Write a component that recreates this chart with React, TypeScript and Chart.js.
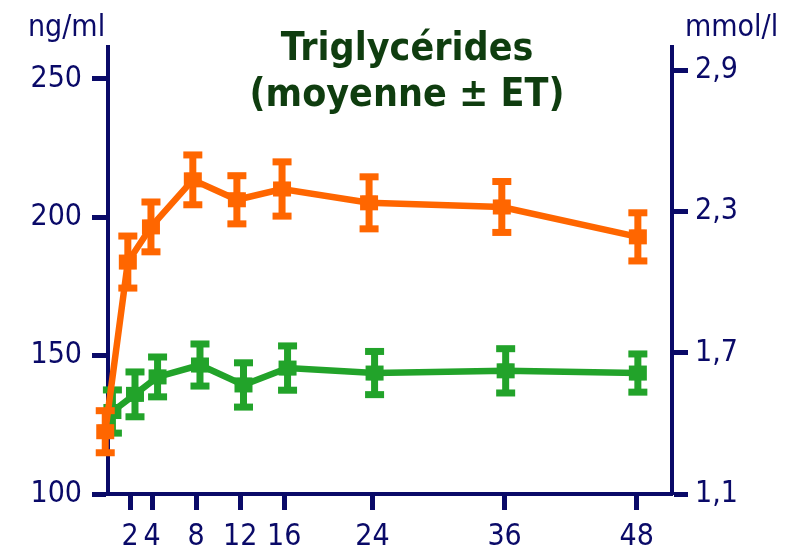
import React, { useEffect, useRef } from "react";
import { Chart, registerables } from "chart.js";

Chart.register(...registerables);

// Hours after intake (each series slightly shifted so the error bars don't overlap)
const orangeHours = [-0.25, 1.8, 3.9, 7.7, 11.7, 15.8, 23.7, 35.75, 48.1];
const orangeMean = [122.5, 183.8, 196.5, 213.5, 206.3, 210.2, 205.2, 203.7, 192.9];
const orangeSd = [7.6, 9.4, 9, 9, 8.7, 9.8, 9.4, 9.2, 8.7];

const greenHours = [0.4, 2.45, 4.5, 8.35, 12.3, 16.3, 24.2, 36.1, 48.1];
const greenMean = [129.8, 136, 142.3, 146.6, 139.4, 145.5, 143.7, 144.5, 143.7];
const greenSd = [7.8, 8.1, 7.2, 7.6, 8, 8, 7.8, 8, 6.9];

const hourTicks = [2, 4, 8, 12, 16, 24, 36, 48];
const ngTicks = [100, 150, 200, 250];
const mmolTicks = [1.1, 1.7, 2.3, 2.9];

const titleLines = ["Triglycérides", "(moyenne ± ET)"];
const leftUnit = "ng/ml";
const rightUnit = "mmol/l";

const NAVY = "#0a0a68";
const ORANGE = "#ff6600";
const GREEN = "#22a32a";
const TITLE_GREEN = "#0f3d0f";
const FONT = '"DejaVu Sans Condensed", "DejaVu Sans", sans-serif';

const errors = [orangeSd, greenSd];

// Draws the ± SD bars and the square markers on top of each series line
const errorBarPlugin = {
  id: "errorBars",
  afterDatasetDraw(chart: any, args: any) {
    const sd = errors[args.index];
    if (!sd) return;
    const ds = chart.data.datasets[args.index];
    const yScale = chart.scales[ds.yAxisID || "y"];
    const ctx = chart.ctx;
    ctx.save();
    ctx.fillStyle = ds.borderColor;
    args.meta.data.forEach((pt: any, j: number) => {
      const v = ds.data[j].y;
      const top = yScale.getPixelForValue(v + sd[j]);
      const bot = yScale.getPixelForValue(v - sd[j]);
      const x = pt.x;
      ctx.fillRect(x - 3.5, top, 7, bot - top);
      ctx.fillRect(x - 9.5, top - 3.5, 19, 7);
      ctx.fillRect(x - 9.5, bot - 3.5, 19, 7);
      ctx.fillRect(x - 9, pt.y - 7.5, 18, 15);
    });
    ctx.restore();
  },
};

const textPlugin = {
  id: "texts",
  afterDraw(chart: any) {
    const ctx = chart.ctx;
    ctx.save();
    ctx.textBaseline = "alphabetic";
    ctx.fillStyle = NAVY;
    ctx.font = `30px ${FONT}`;
    ctx.textAlign = "left";
    ctx.fillText(leftUnit, 28, 36);
    ctx.fillText(rightUnit, 685, 36);
    ctx.fillStyle = TITLE_GREEN;
    ctx.font = `bold 39px ${FONT}`;
    ctx.textAlign = "center";
    ctx.fillText(titleLines[0], 407, 60);
    ctx.fillText(titleLines[1], 407, 106);
    ctx.restore();
  },
};

export default function App() {
  const ref = useRef<HTMLCanvasElement>(null);

  useEffect(() => {
    if (!ref.current) return;
    const axisGrid = {
      display: true,
      drawOnChartArea: false,
      drawTicks: true,
      tickLength: 16,
      tickWidth: 5,
      tickColor: NAVY,
    };
    const chart = new Chart(ref.current, {
      type: "line",
      data: {
        datasets: [
          {
            label: "orange",
            data: orangeHours.map((h, i) => ({ x: h, y: orangeMean[i] })),
            borderColor: ORANGE,
            backgroundColor: ORANGE,
            borderWidth: 6.5,
            pointStyle: "rect",
            pointRadius: 10,
            pointBorderWidth: 0,
            yAxisID: "y",
            clip: false,
          },
          {
            label: "green",
            data: greenHours.map((h, i) => ({ x: h, y: greenMean[i] })),
            borderColor: GREEN,
            backgroundColor: GREEN,
            borderWidth: 6.5,
            pointStyle: "rect",
            pointRadius: 10,
            pointBorderWidth: 0,
            yAxisID: "y",
            clip: false,
          },
        ],
      },
      plugins: [errorBarPlugin, textPlugin],
      options: {
        animation: false,
        responsive: false,
        devicePixelRatio: 1,
        layout: { padding: { top: 47, left: 0, right: 0, bottom: 0 } },
        plugins: {
          legend: { display: false },
          tooltip: { enabled: false },
          title: { display: false },
        },
        scales: {
          x: {
            type: "linear",
            min: 0,
            max: 51.2,
            z: 1,
            afterBuildTicks: (s: any) => {
              s.ticks = hourTicks.map((v) => ({ value: v }));
            },
            afterFit: (s: any) => {
              s.height = 53;
            },
            border: { display: true, color: NAVY, width: 4 },
            grid: axisGrid,
            ticks: {
              autoSkip: false,
              maxRotation: 0,
              padding: 9,
              color: NAVY,
              font: { family: FONT, size: 30 },
              callback: (v: any) => String(v),
            },
          },
          y: {
            type: "linear",
            position: "left",
            min: 100,
            max: 261.5,
            z: 1,
            afterBuildTicks: (s: any) => {
              s.ticks = ngTicks.map((v) => ({ value: v }));
            },
            afterFit: (s: any) => {
              s.width = 108;
            },
            border: { display: true, color: NAVY, width: 4 },
            grid: axisGrid,
            ticks: {
              padding: 10,
              color: NAVY,
              font: { family: FONT, size: 30 },
              callback: (v: any) => String(v),
            },
          },
          y2: {
            type: "linear",
            position: "right",
            display: true,
            min: 1.1,
            max: 3.0,
            z: 1,
            afterBuildTicks: (s: any) => {
              s.ticks = mmolTicks.map((v) => ({ value: v }));
            },
            afterFit: (s: any) => {
              s.width = 135;
            },
            border: { display: true, color: NAVY, width: 4 },
            grid: axisGrid,
            ticks: {
              padding: 7,
              color: NAVY,
              font: { family: FONT, size: 30 },
              callback: (v: any) => Number(v).toFixed(1).replace(".", ","),
            },
          },
        },
      },
    } as any);
    return () => chart.destroy();
  }, []);

  return (
    <div style={{ position: "absolute", left: 0, top: 0, width: 807, height: 547, background: "#fff" }}>
      <canvas ref={ref} width={807} height={547} />
    </div>
  );
}
